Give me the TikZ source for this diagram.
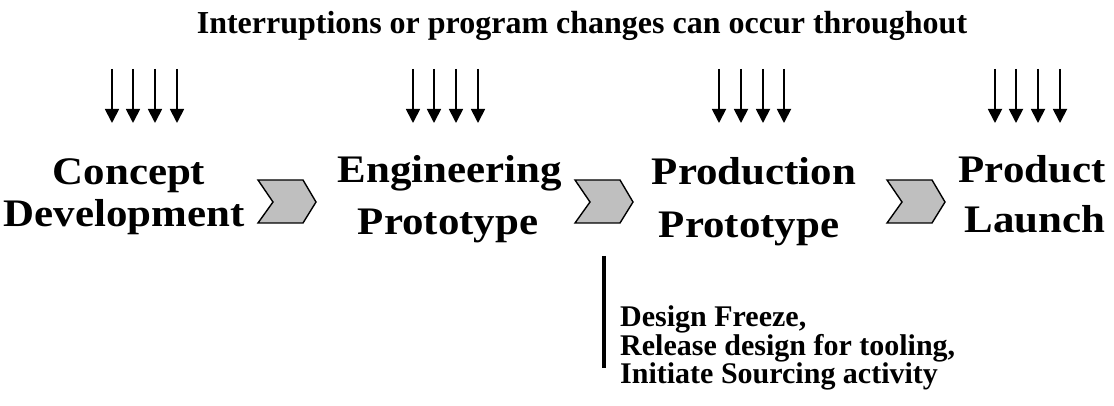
\documentclass[tikz,border=0pt]{standalone}
\usepackage{fontspec}
\setmainfont{Liberation Serif}
\newfontfamily\widefont{Liberation Serif}[FakeStretch=1.1]
\usetikzlibrary{arrows.meta}
\tikzset{
  title/.style={font=\fontsize{32}{36}\selectfont\bfseries, anchor=base, inner sep=0pt},
  stage/.style={font=\widefont\fontsize{39}{44}\selectfont\bfseries, anchor=base, inner sep=0pt},
  note/.style={font=\fontsize{30}{34}\selectfont\bfseries, anchor=base west, inner sep=0pt},
  interrupt/.style={line width=1.8pt, -{Triangle[width=14pt,length=14pt]}},
  chev/.style={draw=black, line width=1.4pt, fill=gray!50!white, line join=miter},
  freeze/.style={line width=4pt},
}
\begin{document}
\begin{tikzpicture}[x=1pt,y=-1pt]
\useasboundingbox (0,0) rectangle (1114,406);
% title
\node[title] (t) at (582,34) {Interruptions or program changes can occur throughout};
% interruption arrows
\foreach \g/\xs in {1/{112,133,155,177}, 2/{413,434,456,478}, 3/{719,741,763,784}, 4/{995,1016,1038,1060}}{
  \foreach \x [count=\i] in \xs {
    \coordinate (a\g\i) at (\x,69);
    \coordinate (b\g\i) at (\x,123);
    \draw[interrupt] (a\g\i) -- (b\g\i);
  }
}
% stage labels
\node[stage] (s1a) at (129,185) {Concept};
\node[stage] (s1b) at (124,227) {Development};
\node[stage] (s2a) at (450,183) {Engineering};
\node[stage] (s2b) at (448,235) {Prototype};
\node[stage] (s3a) at (754,185) {Production};
\node[stage] (s3b) at (749,237) {Prototype};
\node[stage] (s4a) at (1032,183) {Product};
\node[stage] (s4b) at (1035,233) {Launch};
% chevrons
\foreach \x in {258,575,887}{
  \draw[chev] (\x,180) -- (\x+45,180) -- (\x+58,202) -- (\x+45,223) -- (\x,223) -- (\x+15,202) -- cycle;
}
% design freeze marker
\coordinate (f1) at (604,256);
\coordinate (f2) at (604,368);
\draw[freeze] (f1) -- (f2);
\node[note] (n1) at (620,326) {Design Freeze,};
\node[note] (n2) at (620,355) {Release design for tooling,};
\node[note] (n3) at (620,383) {Initiate Sourcing activity};
\end{tikzpicture}
\end{document}
